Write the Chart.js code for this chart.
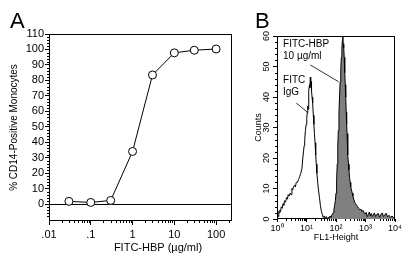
<!DOCTYPE html>
<html><head><meta charset="utf-8">
<script src="https://cdn.jsdelivr.net/npm/chart.js@4"></script>
<style>
html,body{margin:0;padding:0;background:#fff;}
#wrap{position:relative;width:408px;height:260px;overflow:hidden;background:#fff;}
#ca{position:absolute;left:0;top:0;}
#cb{position:absolute;left:240px;top:0;}
</style></head><body>
<div id="wrap"><canvas id="ca" width="240" height="260"></canvas><canvas id="cb" width="168" height="260"></canvas></div>
<script>
// ---------- Panel A data ----------
const hbpDose = [0.03, 0.1, 0.3, 1, 3, 10, 30, 100];
const cd14Positive = [1.7, 1.0, 2.3, 34, 83.5, 97.8, 99.5, 100.3];
const aXTicks = [0.01, 0.1, 1, 10, 100];
const aXLabels = ['.01', '.1', '1', '10', '100'];
const aYTicks = [0, 10, 20, 30, 40, 50, 60, 70, 80, 90, 100, 110];
const aYLabels = ['0', '10', '20', '30', '40', '50', '60', '70', '80', '90', '100', '110'];

// ---------- Panel B data ----------
const iggFL1 = [1.0,1.05,1.1,1.15,1.2,1.26,1.32,1.4,1.5,1.6,1.7,1.8,1.95,2.1,2.25,2.4,2.6,2.8,3.0,3.2,3.4,3.6,3.9,4.2,4.5,4.9,5.4,5.9,6.4,7.0,7.5,7.9,8.3,8.7,9.2,9.7,10.2,10.6,11.0,11.3,11.7,12.1,12.6,13.0,13.5,13.9,14.3,14.8,15.4,16.2,17.0,17.8,18.6,19.5,20.5,21.5,22.5,24.0,25.5,27.5,29.5,32,34.5,37,40,43,47,51,56,61];
const iggCounts = [0.5,1.5,0.8,2.5,2,3,2.5,4,3.5,5,4.5,6,5.5,7,6.5,8,7.5,8.5,8,10,9.5,10.5,11,10.5,12,12,13,14,15,16.5,20,22,24,26,29,31,33,35,37,36,40,42,44,43,46.5,44,45,42,40,38,34,31,28,25,21,18,15,12,9.5,7,4.5,2.5,1.5,0.5,1,0.2,0.8,0.1,0.5,0];
const hbpFL1 = [50,56,62,68,74,80,85,90,95,100,105,110,115,120,126,132,138,145,152,158,164,170,176,183,190,198,206,214,222,230,238,246,255,265,275,288,302,316,335,355,375,400,430,460,500,540,590,640,700,760,830,900,980,1060,1150,1250,1350,1460,1580,1700,1850,2000,2200,2400,2700,3000,3300,3700,4100,4500,5000,5600,6300,7100,8000,9000,10000];
const hbpCounts = [0.3,0,1,0.5,1.5,2,3,4.5,6,8.5,13,18,24,29,35,40,45,49,53,56,58.5,60,57.5,56,53,48,44,40,35,31,28,25,21,18,16,13.5,12,10.5,9.5,8.5,7.5,6.5,5.5,5,4.5,4,3.5,3,3.2,2.5,2.8,2,1.6,2.2,0.8,1.5,2.3,1,1.8,0.8,1.3,2,0.8,1.5,1.8,0.6,1.4,2,0.8,1.3,1.9,0.7,1.2,0.5,1,0.3,0];
const bXTicks = [1, 10, 100, 1000, 10000];
const bXLabels = ['10\u2070', '10\u00B9', '10\u00B2', '10\u00B3', '10\u2074'];
const bYTicks = [0, 10, 20, 30, 40, 50, 60];
const bYLabels = ['0', '10', '20', '30', '40', '50', '60'];
// annotation labels (data coordinates) and leader lines
const bNotes = [
  {lines: ['FITC-HBP', '10 \u00B5g/ml'], x: 1.6, y: 57.4, fromX: 13.5, fromY: 50.5, toX: 123, toY: 45},
  {lines: ['FITC', 'IgG'], x: 1.6, y: 45.6, fromX: 4.5, fromY: 38, toX: 11.5, toY: 34.8}
];

const FONT = '"Liberation Sans", Arial, Helvetica, sans-serif';
Chart.defaults.font.family = FONT;
Chart.defaults.color = '#000';

function minorLog(lo, hi) { const out = []; for (let k = lo; k <= hi; k++) for (let m = 2; m <= 9; m++) out.push(m * Math.pow(10, k)); return out; }
function minorLin(a, b, step, major) { const out = []; for (let v = a; v <= b; v += step) if (v % major !== 0) out.push(v); return out; }

function framePlugin() {
  return { id: 'frame', beforeDatasetsDraw(chart) {
    const {ctx, chartArea: a} = chart;
    ctx.save(); ctx.strokeStyle = '#000'; ctx.lineWidth = 1;
    const l = Math.round(a.left) + 0.5, t = Math.round(a.top) + 0.5, r = Math.round(a.right) - 0.5, b = Math.round(a.bottom) - 0.5;
    ctx.strokeRect(l, t, r - l, b - t);
    ctx.restore();
  }};
}
function minorPlugin(items) {
  return { id: 'minorTicks', afterDraw(chart) {
    const {ctx, chartArea: a} = chart;
    ctx.save(); ctx.strokeStyle = '#000'; ctx.lineWidth = 1; ctx.beginPath();
    items.forEach(it => {
      const s = chart.scales[it.axis];
      it.values.forEach(v => {
        if (v < s.min || v > s.max) return;
        const p = Math.round(s.getPixelForValue(v)) + 0.5;
        if (s.isHorizontal()) { ctx.moveTo(p, a.bottom); ctx.lineTo(p, a.bottom + it.len); }
        else { ctx.moveTo(a.left - it.len, p); ctx.lineTo(a.left, p); }
      });
    });
    ctx.stroke(); ctx.restore();
  }};
}
function textPlugin(items) {
  return { id: 'texts', afterDraw(chart) {
    const {ctx} = chart;
    items.forEach(it => {
      ctx.save(); ctx.font = it.font; ctx.fillStyle = '#000';
      ctx.textAlign = it.align || 'left'; ctx.textBaseline = it.baseline || 'alphabetic';
      ctx.fillText(it.text, it.x, it.y); ctx.restore();
    });
  }};
}

// ---------- Chart A ----------
new Chart(document.getElementById('ca'), {
  type: 'line',
  data: { datasets: [{
    data: hbpDose.map((x, i) => ({x, y: cd14Positive[i]})),
    borderColor: '#000', borderWidth: 1, tension: 0, fill: false,
    pointRadius: 4, pointBackgroundColor: '#fff', pointBorderColor: '#000', pointBorderWidth: 1
  }]},
  options: {
    responsive: false, animation: false, devicePixelRatio: 1,
    layout: {padding: {top: 34, right: 8, bottom: 0, left: 0}},
    plugins: {legend: {display: false}, tooltip: {enabled: false}},
    scales: {
      x: { type: 'logarithmic', min: 0.01, max: 240,
        afterBuildTicks: s => { s.ticks = aXTicks.map(v => ({value: v})); },
        afterFit: s => { s.height = 39; },
        ticks: {autoSkip: false, minRotation: 0, maxRotation: 0, padding: 3, font: {size: 11}, color: '#000',
          callback: (v, i) => aXLabels[i]},
        grid: {drawOnChartArea: false, drawTicks: true, tickLength: 4, tickColor: '#000'},
        border: {display: false}
      },
      y: { type: 'linear', min: -11, max: 110,
        afterBuildTicks: s => { s.ticks = aYTicks.map(v => ({value: v})); },
        afterFit: s => { s.width = 49; },
        ticks: {padding: 1, font: {size: 11}, color: '#000', callback: (v, i) => aYLabels[i]},
        grid: {drawOnChartArea: true, drawTicks: true, tickLength: 4, tickColor: '#000',
          color: c => (c.tick && c.tick.value === 0) ? '#000' : 'rgba(0,0,0,0)'},
        border: {display: false},
        title: {display: true, text: '% CD14-Positive Monocytes', font: {size: 10}, color: '#000', padding: {top: 8, bottom: 0}}
      }
    }
  },
  plugins: [framePlugin(),
    minorPlugin([{axis: 'x', values: minorLog(-2, 2), len: 2}, {axis: 'y', values: minorLin(-10, 110, 2, 10), len: 2}]),
    textPlugin([
      {text: 'A', x: 10, y: 28, font: '22px ' + FONT},
      {text: 'FITC-HBP (\u00B5g/ml)', x: 158, y: 248, font: '11px ' + FONT, align: 'center', baseline: 'middle'}
    ])]
});

// ---------- Chart B ----------
const notesPlugin = { id: 'notes', afterDraw(chart) {
  const {ctx} = chart; const sx = chart.scales.x, sy = chart.scales.y;
  ctx.save(); ctx.fillStyle = '#000'; ctx.strokeStyle = '#000'; ctx.lineWidth = 0.8;
  ctx.font = '10px ' + FONT; ctx.textAlign = 'left'; ctx.textBaseline = 'middle';
  bNotes.forEach(n => {
    const x = sx.getPixelForValue(n.x), y = sy.getPixelForValue(n.y);
    n.lines.forEach((t, i) => ctx.fillText(t, x, y + i * 12));
    ctx.beginPath();
    ctx.moveTo(sx.getPixelForValue(n.fromX), sy.getPixelForValue(n.fromY));
    ctx.lineTo(sx.getPixelForValue(n.toX), sy.getPixelForValue(n.toY));
    ctx.stroke();
  });
  // rotated count tick labels
  ctx.font = '9px ' + FONT; ctx.textAlign = 'center'; ctx.textBaseline = 'middle';
  bYTicks.forEach((v, i) => {
    ctx.save(); ctx.translate(chart.chartArea.left - 10, sy.getPixelForValue(v)); ctx.rotate(-Math.PI / 2);
    ctx.fillText(bYLabels[i], 0, 0); ctx.restore();
  });
  ctx.restore();
}};

new Chart(document.getElementById('cb'), {
  type: 'line',
  data: { datasets: [
    { data: hbpFL1.map((x, i) => ({x, y: hbpCounts[i]})), borderColor: '#000', borderWidth: 1,
      backgroundColor: '#808080', fill: 'origin', pointRadius: 0, tension: 0 },
    { data: iggFL1.map((x, i) => ({x, y: iggCounts[i]})), borderColor: '#000', borderWidth: 1,
      fill: false, pointRadius: 0, tension: 0 }
  ]},
  options: {
    responsive: false, animation: false, devicePixelRatio: 1,
    layout: {padding: {top: 36, right: 13, bottom: 0, left: 0}},
    plugins: {legend: {display: false}, tooltip: {enabled: false}},
    scales: {
      x: { type: 'logarithmic', min: 1, max: 10000,
        afterBuildTicks: s => { s.ticks = bXTicks.map(v => ({value: v})); },
        afterFit: s => { s.height = 41; },
        ticks: {autoSkip: false, minRotation: 0, maxRotation: 0, padding: 1, font: {size: 9}, color: '#000',
          callback: (v, i) => bXLabels[i]},
        grid: {drawOnChartArea: false, drawTicks: true, tickLength: 3, tickColor: '#000'},
        border: {display: false},
        title: {display: true, text: 'FL1-Height', font: {size: 9}, color: '#000', padding: {top: 0, bottom: 16.6}}
      },
      y: { type: 'linear', min: 0, max: 60,
        afterBuildTicks: s => { s.ticks = bYTicks.map(v => ({value: v})); },
        afterFit: s => { s.width = 37; },
        ticks: {display: false},
        grid: {drawOnChartArea: false, drawTicks: true, tickLength: 4, tickColor: '#000'},
        border: {display: false},
        title: {display: true, text: 'Counts', font: {size: 9}, color: '#000', padding: {top: 13.6, bottom: 0}}
      }
    }
  },
  plugins: [framePlugin(),
    minorPlugin([{axis: 'x', values: minorLog(0, 3), len: 2}, {axis: 'y', values: minorLin(0, 60, 2, 10), len: 2}]),
    notesPlugin,
    textPlugin([{text: 'B', x: 15, y: 28, font: '22px ' + FONT}])]
});
</script>
</body></html>
